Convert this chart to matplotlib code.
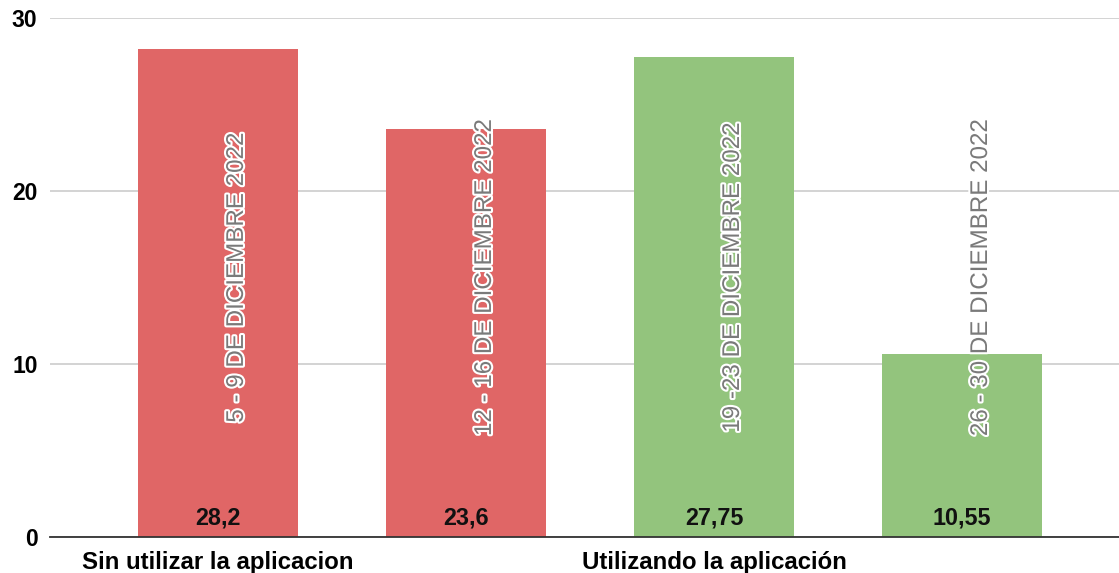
import matplotlib
matplotlib.use("Agg")
import matplotlib.pyplot as plt
import matplotlib.patheffects as pe
import matplotlib.transforms as mtransforms

plt.rcParams['font.family'] = ['Liberation Sans', 'DejaVu Sans']

# Weekly values
periods = ["5 - 9 DE DICIEMBRE 2022", "12 - 16 DE DICIEMBRE 2022",
           "19 -23 DE DICIEMBRE 2022", "26 - 30 DE DICIEMBRE 2022"]
values = [28.2, 23.6, 27.75, 10.55]
value_labels = ["28,2", "23,6", "27,75", "10,55"]
groups = ["Sin utilizar la aplicacion", "", "Utilizando la aplicación", ""]
colors = ["#E06666", "#E06666", "#93C47D", "#93C47D"]
yticks = [0, 10, 20, 30]

fig = plt.figure(figsize=(11.19, 5.73), dpi=100)
ax = fig.add_axes([50 / 1119, 1 - 537 / 573, 1 - 50 / 1119, (537 - 18) / 573])

x = list(range(len(values)))
ax.bar(x, values, width=0.645, color=colors, zorder=2)

ax.set_xlim(-0.677, 3.633)
ax.set_ylim(0, 30)
ax.set_yticks(yticks)
ax.set_yticklabels([str(t) for t in yticks], fontsize=16.5, fontweight='bold')
ax.grid(axis='y', color='#cccccc', linewidth=1.2, zorder=0)
ax.set_axisbelow(True)

ax.set_xticks(x)
ax.set_xticklabels(groups, fontsize=17.3, fontweight='bold')
ax.tick_params(axis='x', length=0, pad=10)
ax.tick_params(axis='y', length=0, pad=9)

for s in ['top', 'right', 'left']:
    ax.spines[s].set_visible(False)
ax.spines['bottom'].set_color('#333333')
ax.spines['bottom'].set_linewidth(1.3)
ax.spines['bottom'].set_zorder(3)

# rotated period labels sit a little right of the bar centre
shifted = mtransforms.offset_copy(ax.transData, fig=fig, x=19, y=0, units='dots')
halo = [pe.withStroke(linewidth=3, foreground='white')]
for xi, label, vtxt in zip(x, periods, value_labels):
    ax.text(xi, 15, label, rotation=90, ha='center', va='center',
            fontsize=17.4, color='#7a7a7a', path_effects=halo, zorder=4,
            transform=shifted)
    ax.text(xi, 1.1, vtxt, ha='center', va='center', fontsize=16.8,
            fontweight='bold', color='#111111', zorder=4)

fig.savefig("out.png", dpi=100)
